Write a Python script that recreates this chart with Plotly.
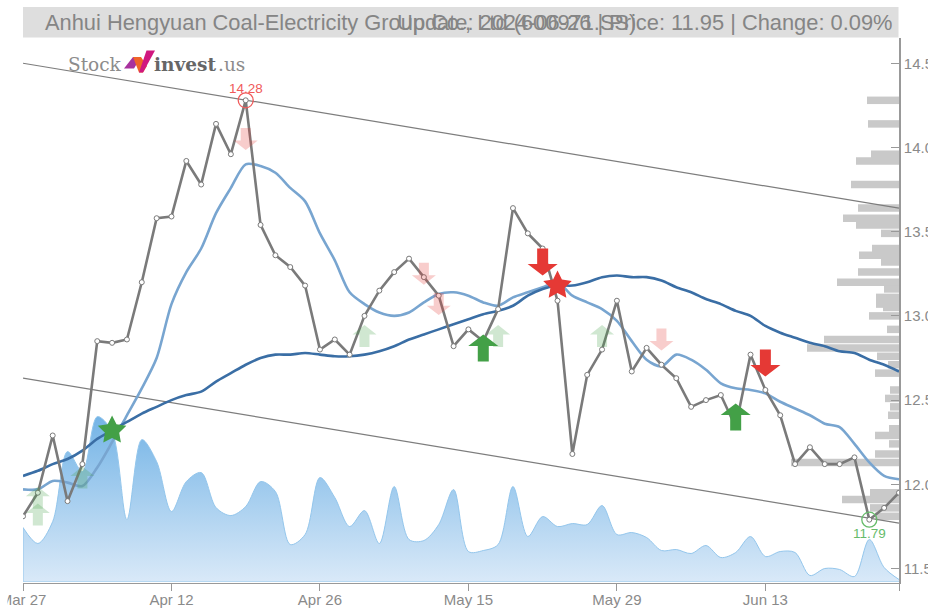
import math
import plotly.graph_objects as go

# ---------- data ----------
dates = ["Mar 27","Mar 28","Mar 29","Apr 1","Apr 2","Apr 3","Apr 8","Apr 9","Apr 10","Apr 11",
         "Apr 12","Apr 15","Apr 16","Apr 17","Apr 18","Apr 19","Apr 22","Apr 23","Apr 24","Apr 25",
         "Apr 26","Apr 29","Apr 30","May 6","May 7","May 8","May 9","May 10","May 13","May 14",
         "May 15","May 16","May 17","May 20","May 21","May 22","May 23","May 24","May 27","May 28",
         "May 29","May 30","May 31","Jun 3","Jun 4","Jun 5","Jun 6","Jun 7","Jun 11","Jun 12",
         "Jun 13","Jun 14","Jun 17","Jun 18","Jun 19","Jun 20","Jun 21","Jun 24","Jun 25","Jun 26"]
tick_labels = ["Mar 27","Apr 12","Apr 26","May 15","May 29","Jun 13"]

price = [11.81,11.95,12.29,11.90,12.12,12.85,12.84,12.86,13.20,13.58,
         13.59,13.92,13.78,14.14,13.96,14.28,13.54,13.36,13.29,13.18,
         12.80,12.86,12.77,13.00,13.15,13.26,13.34,13.23,13.12,12.82,
         12.92,12.85,13.04,13.64,13.49,13.40,13.09,12.18,12.65,12.80,
         13.09,12.67,12.81,12.71,12.63,12.46,12.50,12.53,12.34,12.77,
         12.56,12.41,12.12,12.22,12.12,12.12,12.16,11.79,11.86,11.95]
ma_short = [11.97,11.97,12.02,12.01,11.99,12.10,12.25,12.41,12.57,12.75,
            13.07,13.26,13.40,13.61,13.76,13.90,13.89,13.85,13.76,13.68,
            13.49,13.33,13.14,13.07,13.02,13.00,13.02,13.08,13.13,13.14,
            13.12,13.08,13.06,13.11,13.14,13.17,13.20,13.12,13.08,13.04,
            12.97,12.85,12.74,12.70,12.77,12.74,12.68,12.60,12.57,12.56,
            12.54,12.49,12.45,12.41,12.36,12.34,12.24,12.13,12.05,12.03]
ma_long = [12.05,12.08,12.12,12.15,12.20,12.27,12.32,12.37,12.42,12.46,
           12.50,12.53,12.55,12.61,12.66,12.71,12.75,12.77,12.77,12.78,
           12.77,12.76,12.76,12.77,12.79,12.82,12.86,12.89,12.92,12.95,
           12.98,13.01,13.03,13.06,13.12,13.16,13.18,13.18,13.20,13.23,
           13.24,13.23,13.23,13.21,13.17,13.14,13.10,13.07,13.03,13.00,
           12.94,12.90,12.87,12.84,12.82,12.79,12.78,12.74,12.71,12.67]
volume = [54,38,60,130,110,165,150,62,142,120,
          70,100,109,74,66,75,100,90,37,47,
          104,84,55,71,38,95,42,41,57,92,
          30,31,37,95,45,65,55,58,57,76,
          47,49,44,31,32,28,36,24,29,45,
          25,30,29,6,13,12,5,42,14,2]
channel_upper = [14.50,13.64]
channel_lower = [12.63,11.77]

profile_price = [14.28,14.14,13.96,13.92,13.78,13.64,13.58,13.54,13.49,13.40,
                 13.36,13.32,13.26,13.20,13.16,13.11,13.07,13.05,13.00,12.92,
                 12.86,12.81,12.76,12.71,12.66,12.56,12.51,12.46,12.41,12.33,
                 12.29,12.24,12.18,12.13,11.95,11.91,11.86,11.81]
profile_size = [32,31,28,43,48,41,56,43,18,27,
                40,18,41,62,15,23,23,16,30,12,
                75,92,22,11,24,9,14,9,11,10,
                24,10,24,108,29,57,29,24]

weak_buy_idx = [1,1,4,23,32,39]
weak_buy_val = [11.92,11.82,12.04,12.88,12.88,12.88]
weak_sell_idx = [15,27,28,43]
weak_sell_val = [14.05,13.25,13.07,12.86]
buy_idx = [31,48]
buy_val = [12.81,12.40]
sell_idx = [35,50]
sell_val = [13.32,12.72]
buy_star = (6,12.32)
sell_star = (36,13.18)

y_ticks = [11.5,12.0,12.5,13.0,13.5,14.0,14.5]
title_left = "Anhui Hengyuan Coal-Electricity Group Co., Ltd (600971.SS)"
title_right = "Update: 2024-06-26 | Price: 11.95 | Change: 0.09%"

# ---------- geometry ----------
W, H = 928, 610
L, R, T, B = 23, 899, 38, 583.5
Y_LOW, Y_HIGH = 11.414, 14.65
def px(x): return (x - L) / (R - L)
def py(y): return (B - y) / (B - T)
n = len(dates)
idx = list(range(n))
px_per_day = (R - L) / (n - 1)

fig = go.Figure()

# volume area (main subplot, drawn first)
fig.add_trace(go.Scatter(x=idx, y=volume, mode="lines", yaxis="y", hoverinfo="skip",
    line=dict(color="#93c6ec", width=1, shape="spline", smoothing=0.9),
    fill="tozeroy",
    fillgradient=dict(type="vertical",
                      colorscale=[[0, "#d9e9f8"], [1, "#74b4e6"]])))
fig.add_trace(go.Scatter(x=[0, 0], y=[0, volume[0]], mode="lines", yaxis="y", hoverinfo="skip",
    line=dict(color="#93c6ec", width=1)))

# volume by price profile, anchored on the right edge
fig.add_trace(go.Bar(orientation="h", y=profile_price,
    x=[s / px_per_day for s in profile_size],
    base=[(n - 1) - s / px_per_day for s in profile_size],
    yaxis="y2", width=0.0445, marker=dict(color="#c9c9c9", line=dict(width=0)), hoverinfo="skip"))

# channel
for ch in (channel_upper, channel_lower):
    fig.add_trace(go.Scatter(x=[0, n - 1], y=ch, mode="lines", yaxis="y2", hoverinfo="skip",
                             line=dict(color="#7d7d7d", width=1.2)))
# moving averages
fig.add_trace(go.Scatter(x=idx, y=ma_short, mode="lines", yaxis="y2", hoverinfo="skip",
                         line=dict(color="#78a5d0", width=2.6, shape="spline", smoothing=0.8)))
fig.add_trace(go.Scatter(x=idx, y=ma_long, mode="lines", yaxis="y2", hoverinfo="skip",
                         line=dict(color="#3a6ea5", width=2.6, shape="spline", smoothing=0.8)))
# price
fig.add_trace(go.Scatter(x=idx, y=price, mode="lines+markers", yaxis="y2", hoverinfo="skip",
    line=dict(color="#7a7a7a", width=2.6),
    marker=dict(symbol="circle", size=5, color="white", line=dict(color="#7a7a7a", width=1))))

# high / low
hi_i = price.index(max(price)); lo_i = price.index(min(price))
fig.add_trace(go.Scatter(x=[hi_i], y=[price[hi_i]], mode="markers", yaxis="y2", hoverinfo="skip",
    marker=dict(symbol="circle-open", size=15, color="#f05a5a", line=dict(width=1.3))))
fig.add_trace(go.Scatter(x=[lo_i], y=[price[lo_i]], mode="markers", yaxis="y2", hoverinfo="skip",
    marker=dict(symbol="circle-open", size=15, color="#66bb6a", line=dict(width=1.3))))

# block arrows and stars: pixel-sized outlines anchored at data values
def arrow_path(half_w, shaft, height, up):
    s = 1 if up else -1
    h = height / 2
    head = h * 0.14
    pts = [(0, s * h), (half_w, s * head), (shaft, s * head), (shaft, -s * h),
           (-shaft, -s * h), (-shaft, s * head), (-half_w, s * head)]
    return "M" + " L".join(f"{a} {b}" for a, b in pts) + " Z"

def star_path(r, inner):
    pts = []
    for k in range(10):
        rad = r if k % 2 == 0 else r * inner
        ang = math.pi / 2 + k * math.pi / 5
        pts.append((round(rad * math.cos(ang), 2), round(rad * math.sin(ang), 2)))
    return "M" + " L".join(f"{a} {b}" for a, b in pts) + " Z"

shapes = []
def add_glyph(xs, ys, color, opacity, path):
    for a, b in zip(xs, ys):
        shapes.append(dict(type="path", xref="x", yref="y2", xsizemode="pixel", ysizemode="pixel",
                           xanchor=a, yanchor=b, path=path,
                           fillcolor=color, opacity=opacity, line=dict(width=0), layer="above"))
add_glyph(weak_buy_idx, weak_buy_val, "#43a047", 0.25, arrow_path(12, 5, 22, True))
add_glyph(weak_sell_idx, weak_sell_val, "#e53935", 0.25, arrow_path(12, 5, 22, False))
add_glyph(buy_idx, buy_val, "#43a047", 1, arrow_path(15, 5.5, 27, True))
add_glyph(sell_idx, sell_val, "#e53935", 1, arrow_path(15, 5.5, 27, False))
add_glyph([buy_star[0]], [buy_star[1]], "#43a047", 1, star_path(15, 0.5))
add_glyph([sell_star[0]], [sell_star[1]], "#e53935", 1, star_path(15, 0.5))

# title band
shapes.append(dict(type="rect", xref="paper", yref="paper", x0=0, x1=px(898.5), y0=py(37.5), y1=py(7),
                   fillcolor="#dedede", line=dict(width=0), layer="below"))
# left page crop of the first label
shapes.append(dict(type="rect", xref="paper", yref="paper", x0=px(0), x1=px(7.5), y0=py(610), y1=py(588),
                   fillcolor="white", line=dict(width=0), layer="above"))
# logo
def poly(points, color):
    d = "M" + " L".join(f"{px(a):.5f} {py(b):.5f}" for a, b in points) + " Z"
    shapes.append(dict(type="path", xref="paper", yref="paper", path=d, fillcolor=color,
                       line=dict(width=0), layer="above"))
poly([(124,68.5),(133,57),(141,57),(134,68.5)], "#a8329e")
poly([(133,57),(141,57),(147,66),(143,72.5),(139,72.5)], "#f0642a")
poly([(146.5,50.5),(155,50.5),(143,72.5),(139,72.5)], "#d0177f")

annotations = [
    dict(text=title_left, x=px(43), y=py(22.5), xanchor="left", yanchor="middle"),
    dict(text=title_right, x=px(894), y=py(22.5), xanchor="right", yanchor="middle"),
]
for a in annotations:
    a.update(xref="paper", yref="paper", showarrow=False, align="left",
             font=dict(family="Liberation Sans", size=21.85, color="#858585"))
logo_bits = [("Stock", 67, "#8c8c8c", False), ("invest", 153, "#666666", True), (".us", 217, "#8c8c8c", False)]
for txt, xp, col, bold in logo_bits:
    annotations.append(dict(text=f"<b>{txt}</b>" if bold else txt, x=px(xp), y=py(65), xref="paper", yref="paper",
                            xanchor="left", yanchor="middle", showarrow=False, borderpad=0,
                            font=dict(family="DejaVu Serif", size=18.5, color=col)))
annotations.append(dict(text=f"{price[hi_i]:.2f}", x=hi_i, y=price[hi_i], xref="x", yref="y2", yshift=12,
                        showarrow=False, font=dict(family="Liberation Sans", size=13.5, color="#f05a5a")))
annotations.append(dict(text=f"{price[lo_i]:.2f}", x=lo_i, y=price[lo_i], xref="x", yref="y2", yshift=-14,
                        showarrow=False, font=dict(family="Liberation Sans", size=13.5, color="#66bb6a")))

tick_idx = [dates.index(t) for t in tick_labels]
fig.update_layout(
    width=W, height=H, showlegend=False, plot_bgcolor="white", paper_bgcolor="white",
    margin=dict(l=L, r=W - R, t=T, b=H - B, pad=0, autoexpand=False), barmode="overlay",
    shapes=shapes, annotations=annotations,
    font=dict(family="Liberation Sans", size=15, color="#8a8a8a"),
    xaxis=dict(range=[0, n - 1], tickmode="array", tickvals=tick_idx + [n - 1],
               ticktext=tick_labels + [""], ticks="outside", ticklen=7, tickwidth=1, tickcolor="#999999",
               showline=True, linecolor="#999999", linewidth=1.2, showgrid=False, zeroline=False,
               tickangle=0, ticklabeloverflow="allow", ticklabelstandoff=-4,
               tickfont=dict(size=15, color="#8a8a8a")),
    yaxis=dict(range=[-1.5, 544], visible=True, showticklabels=False, ticks="", showgrid=False,
               showline=False, zeroline=True, zerolinecolor="#93c6ec", zerolinewidth=1),
    yaxis2=dict(range=[Y_LOW, Y_HIGH], overlaying="y", side="right", anchor="x",
                tickmode="array", tickvals=y_ticks + [Y_HIGH], ticktext=[f"{v:.1f}" for v in y_ticks] + [""],
                ticks="inside", ticklen=8, tickwidth=1, tickcolor="#999999", showline=True, linecolor="#999999",
                linewidth=1.6, showgrid=False, zeroline=False, ticklabeloverflow="allow",
                tickfont=dict(size=15, color="#8a8a8a")),
)

fig.write_html("out.html", config=dict(displayModeBar=False),
               post_script="document.body.style.margin='0';document.documentElement.style.overflow='hidden';")
